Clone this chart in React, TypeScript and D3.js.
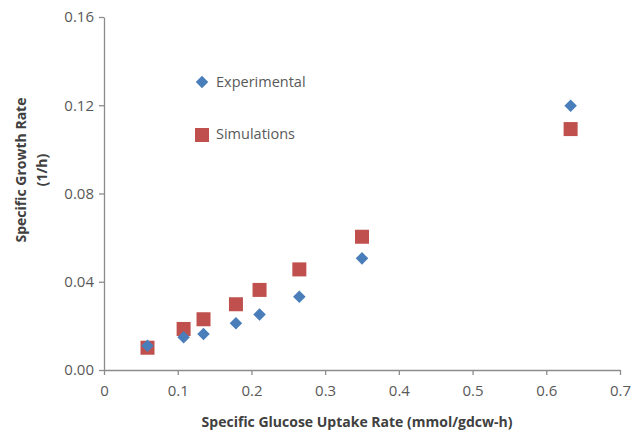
import React, { useRef, useEffect } from 'react';
import * as d3 from 'd3';

// uptake rate (mmol/gdcw-h)
const uptakeRates = [0.059, 0.108, 0.135, 0.179, 0.211, 0.265, 0.35, 0.633];
// growth rate (1/h)
const experimental = [0.011, 0.0148, 0.0163, 0.0212, 0.0252, 0.0332, 0.0506, 0.1198];
const simulations = [0.0101, 0.0186, 0.023, 0.0298, 0.0363, 0.0456, 0.0604, 0.1092];

const xTicks = [0, 0.1, 0.2, 0.3, 0.4, 0.5, 0.6, 0.7];
const yTicks = [0, 0.04, 0.08, 0.12, 0.16];

const seriesNames = ['Experimental', 'Simulations'];

const App: React.FC = () => {
  const ref = useRef<SVGSVGElement | null>(null);

  useEffect(() => {
    if (!ref.current) return;
    const svg = d3.select(ref.current);
    svg.selectAll('*').remove();

    const width = 633;
    const height = 431;
    const margin = { top: 17, right: 13, bottom: 61, left: 104 };
    const font = "'Open Sans', sans-serif";
    const axisColor = '#8c8c8c';
    const textColor = '#595959';
    const blue = '#4a7ebb';
    const red = '#c0504d';

    const x = d3.scaleLinear()
      .domain([0, 0.7])
      .range([margin.left, width - margin.right]);

    const y = d3.scaleLinear()
      .domain([0, 0.16])
      .range([height - margin.bottom, margin.top]);

    // Y axis
    const yAxis = svg.append('g')
      .attr('transform', `translate(${margin.left},0)`)
      .call(d3.axisLeft(y).tickValues(yTicks).tickFormat(d3.format('.2f')).tickSize(5).tickSizeOuter(0).tickPadding(5));
    yAxis.select('.domain').attr('stroke', axisColor).attr('stroke-width', 1.3);
    yAxis.selectAll('line').attr('stroke', axisColor).attr('stroke-width', 1.3);
    yAxis.selectAll('text')
      .attr('fill', textColor)
      .attr('font-family', font)
      .attr('font-size', 15);

    // X axis
    const xAxis = svg.append('g')
      .attr('transform', `translate(0,${height - margin.bottom})`)
      .call(d3.axisBottom(x).tickValues(xTicks).tickFormat(d => d === 0 ? '0' : d3.format('.1f')(d as number)).tickSize(5).tickSizeOuter(0).tickPadding(10));
    xAxis.select('.domain').attr('stroke', axisColor).attr('stroke-width', 1.3);
    xAxis.selectAll('line').attr('stroke', axisColor).attr('stroke-width', 1.3);
    xAxis.selectAll('text')
      .attr('fill', textColor)
      .attr('font-family', font)
      .attr('font-size', 15);

    // Axis titles
    svg.append('text')
      .attr('x', 357)
      .attr('y', 427)
      .attr('text-anchor', 'middle')
      .attr('font-family', font)
      .attr('font-weight', 'bold')
      .attr('font-size', 14)
      .attr('fill', '#404040')
      .text('Specific Glucose Uptake Rate (mmol/gdcw-h)');

    const yTitle = svg.append('text')
      .attr('transform', `translate(26,170) rotate(-90)`)
      .attr('text-anchor', 'middle')
      .attr('font-family', font)
      .attr('font-weight', 'bold')
      .attr('font-size', 14)
      .attr('fill', '#404040');
    yTitle.append('tspan').attr('x', 0).attr('dy', 0).text('Specific Growth Rate');
    yTitle.append('tspan').attr('x', 0).attr('dy', 21).text('(1/h)');

    const diamond = d3.symbol().type(d3.symbolDiamond2).size(100);

    // Simulations (squares)
    svg.append('g')
      .selectAll('rect')
      .data(uptakeRates)
      .join('rect')
      .attr('x', (d) => x(d) - 7)
      .attr('y', (_, i) => y(simulations[i]) - 7)
      .attr('width', 14)
      .attr('height', 14)
      .attr('fill', red);

    // Experimental (diamonds)
    svg.append('g')
      .selectAll('path')
      .data(uptakeRates)
      .join('path')
      .attr('d', diamond)
      .attr('transform', (d, i) => `translate(${x(d)},${y(experimental[i])})`)
      .attr('fill', blue);

    // Legend
    const legend = svg.append('g').attr('font-family', font).attr('font-size', 14.5).attr('fill', textColor);
    legend.append('path')
      .attr('d', diamond)
      .attr('transform', 'translate(202,82)')
      .attr('fill', blue);
    legend.append('rect')
      .attr('x', 195)
      .attr('y', 128)
      .attr('width', 14)
      .attr('height', 14)
      .attr('fill', red);
    legend.selectAll('text')
      .data(seriesNames)
      .join('text')
      .attr('x', 216)
      .attr('y', (_, i) => 87 + i * 52)
      .text(d => d);
  }, []);

  return <svg ref={ref} width={633} height={431} style={{ position: 'absolute', left: 0, top: 0, background: '#fff' }} />;
};

export default App;
